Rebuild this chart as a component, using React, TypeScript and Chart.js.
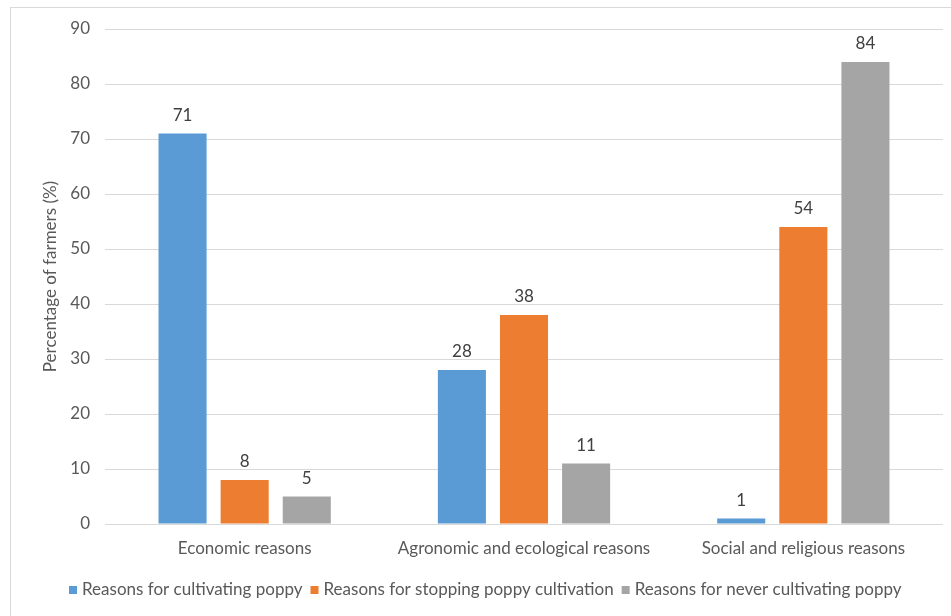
import React, { useEffect, useRef } from "react";
import { Chart, registerables } from "chart.js";

Chart.register(...registerables);

const categories = ["Economic reasons", "Agronomic and ecological reasons", "Social and religious reasons"];
const seriesNames = [
  "Reasons for cultivating poppy",
  "Reasons for stopping poppy cultivation",
  "Reasons for never cultivating poppy",
];
const cultivating = [71, 28, 1];
const stopping = [8, 38, 54];
const never = [5, 11, 84];
const colors = ["#5b9bd5", "#ed7d31", "#a5a5a5"];
const yTitle = "Percentage of farmers (%)";

const FONT = "Lato, Carlito, Calibri, 'Open Sans', sans-serif";
const TEXT = "#595959";
const FS = 17;

const framePlugin = {
  id: "frame",
  beforeDraw(chart: any) {
    const ctx = chart.ctx;
    ctx.save();
    ctx.fillStyle = "#ffffff";
    ctx.fillRect(0, 0, chart.width, chart.height);
    ctx.strokeStyle = "#d9d9d9";
    ctx.lineWidth = 1;
    ctx.strokeRect(10.5, 7.5, chart.width + 20, chart.height + 20);
    ctx.restore();
  },
};

const valueLabelPlugin = {
  id: "valueLabels",
  afterDatasetsDraw(chart: any) {
    const ctx = chart.ctx;
    ctx.save();
    ctx.font = `${FS}px ${FONT}`;
    ctx.fillStyle = "#404040";
    ctx.textAlign = "center";
    ctx.textBaseline = "alphabetic";
    chart.data.datasets.forEach((ds: any, i: number) => {
      const meta = chart.getDatasetMeta(i);
      meta.data.forEach((el: any, j: number) => {
        ctx.fillText(String(ds.data[j]), el.x, el.y - 13);
      });
    });
    ctx.restore();
  },
};

const legendPlugin = {
  id: "customLegend",
  afterDraw(chart: any) {
    const ctx = chart.ctx;
    ctx.save();
    ctx.font = `${FS}px ${FONT}`;
    ctx.textBaseline = "middle";
    ctx.textAlign = "left";
    let x = 69;
    const y = 590;
    chart.data.datasets.forEach((ds: any) => {
      ctx.fillStyle = ds.backgroundColor;
      ctx.fillRect(x, y - 4, 8, 8);
      x += 13;
      ctx.fillStyle = TEXT;
      ctx.fillText(ds.label, x, y);
      x += ctx.measureText(ds.label).width + 8;
    });
    ctx.restore();
  },
};

export default function App() {
  const ref = useRef<HTMLCanvasElement>(null);
  useEffect(() => {
    if (!ref.current) return;
    const chart = new Chart(ref.current, {
      type: "bar",
      data: {
        labels: categories,
        datasets: [cultivating, stopping, never].map((d, i) => ({
          label: seriesNames[i],
          data: d,
          backgroundColor: colors[i],
          borderWidth: 0,
          categoryPercentage: 0.667,
          barPercentage: 0.774,
        })),
      },
      options: {
        animation: false,
        responsive: false,
        maintainAspectRatio: false,
        devicePixelRatio: 1,
        layout: { padding: { left: 40, top: 29, right: 8, bottom: 52 } },
        plugins: { legend: { display: false }, tooltip: { enabled: false } },
        scales: {
          x: {
            grid: { display: false, drawTicks: false },
            border: { display: false },
            ticks: { color: TEXT, font: { family: FONT, size: FS }, padding: 14, maxRotation: 0 },
            afterFit: (s: any) => { s.height = 40; },
          },
          y: {
            min: 0,
            max: 90,
            ticks: { stepSize: 10, color: TEXT, font: { family: FONT, size: FS }, padding: 15 },
            grid: { color: "#d9d9d9", drawTicks: false },
            border: { display: false },
            title: { display: true, text: yTitle, color: TEXT, font: { family: FONT, size: FS }, padding: 0 },
            afterFit: (s: any) => { s.width = 65; },
          },
        },
      },
      plugins: [framePlugin, valueLabelPlugin, legendPlugin],
    });
    return () => chart.destroy();
  }, []);
  return (
    <div style={{ position: "fixed", left: 0, top: 0, width: 951, height: 616 }}>
      <canvas ref={ref} width={951} height={616} style={{ display: "block", width: 951, height: 616 }} />
    </div>
  );
}
